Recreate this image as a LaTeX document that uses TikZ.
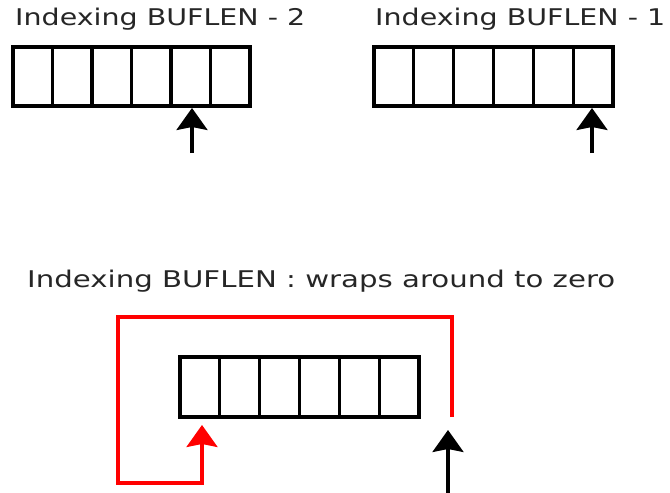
\documentclass[tikz,border=0pt]{standalone}
\usepackage{fontspec}
\setmainfont{DejaVu Sans}
\usetikzlibrary{arrows.meta,calc}
\definecolor{txt}{HTML}{262626}
\newsavebox{\lblbox}
\newcommand{\lbl}[2]{\sbox{\lblbox}{#2}\scalebox{\fpeval{(#1)/(\wd\lblbox)}}[1]{\usebox{\lblbox}}}
\begin{document}
\begin{tikzpicture}[x=1pt,y=-1pt,
  buf/.style={draw=black,line width=3.2pt,minimum width=#1,minimum height=59pt,inner sep=0pt,outer sep=0pt},
  cellline/.style={line width=3.2pt},
  ptr/.style={line width=3.2pt,-{Stealth[width=31pt,length=22pt,inset=3pt]}},
  wrap/.style={draw=red,line width=3.2pt,-{Stealth[width=31pt,length=22pt,inset=3pt]}},
  lab/.style={anchor=base west,inner sep=0pt,text=txt,font=\fontsize{23}{27}\selectfont}]
\useasboundingbox (0,0) rectangle (670,493);
% labels
\node[lab] (t1) at (15,25.5) {\lbl{290pt}{Indexing BUFLEN - 2}};
\node[lab] (t2) at (375,25.5) {\lbl{290pt}{Indexing BUFLEN - 1}};
\node[lab] (t3) at (27,287.5) {\lbl{588pt}{Indexing BUFLEN : wraps around to zero}};
% buffers
\node[buf=237pt] (b1) at (131.5,76.5) {};
\foreach \i in {1,...,5} \draw[cellline] ($(b1.north west)!\i/6!(b1.north east)$) -- ($(b1.south west)!\i/6!(b1.south east)$);
\node[buf=239pt] (b2) at (493.5,76.5) {};
\foreach \i in {1,...,5} \draw[cellline] ($(b2.north west)!\i/6!(b2.north east)$) -- ($(b2.south west)!\i/6!(b2.south east)$);
\node[buf=239pt,minimum height=60pt] (b3) at (299.5,387) {};
\foreach \i in {1,...,5} \draw[cellline] ($(b3.north west)!\i/6!(b3.north east)$) -- ($(b3.south west)!\i/6!(b3.south east)$);
% pointers
\coordinate (p1s) at (192,153); \coordinate (p1e) at (192,108);
\draw[ptr] (p1s) -- (p1e);
\coordinate (p2s) at (592,153); \coordinate (p2e) at (592,108);
\draw[ptr] (p2s) -- (p2e);
\coordinate (p3s) at (448,495); \coordinate (p3e) at (448,430);
\draw[ptr] (p3s) -- (p3e);
% wrap-around
\coordinate (w0) at (452,417);
\coordinate (w1) at (452,317);
\coordinate (w2) at (118,317);
\coordinate (w3) at (118,483);
\coordinate (w4) at (202,483);
\coordinate (w5) at (202,425);
\draw[wrap] (w0) -- (w1) -- (w2) -- (w3) -- (w4) -- (w5);
\end{tikzpicture}
\end{document}
